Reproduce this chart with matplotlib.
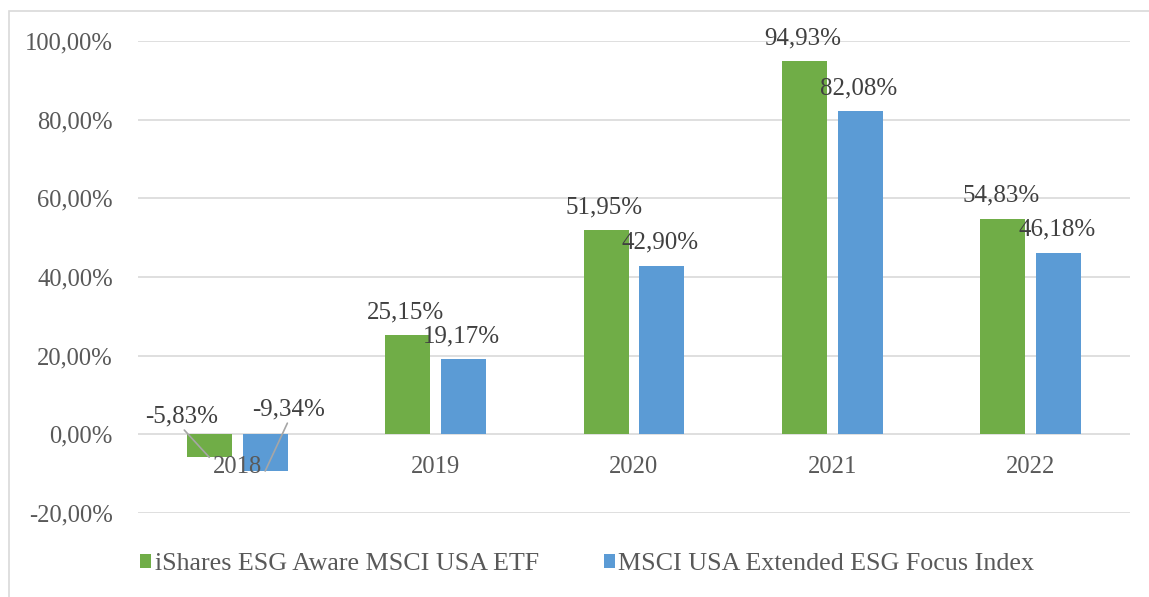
import matplotlib
matplotlib.use('Agg')
import matplotlib.pyplot as plt
from matplotlib.patches import Rectangle
import numpy as np

years = ['2018', '2019', '2020', '2021', '2022']
etf = [-5.83, 25.15, 51.95, 94.93, 54.83]
index = [-9.34, 19.17, 42.90, 82.08, 46.18]
series_names = ['iShares ESG Aware MSCI USA ETF', 'MSCI USA Extended ESG Focus Index']
yticks = [-20, 0, 20, 40, 60, 80, 100]

GREEN = '#70ad47'
BLUE = '#5b9bd5'
FS = 17.7
FS_LAB = 18.0
FS_LEG = 18.7

plt.rcParams['font.family'] = ['Liberation Serif', 'DejaVu Serif']

def pct(v):
    return ('%.2f%%' % v).replace('.', ',')

fig = plt.figure(figsize=(11.49, 5.97), dpi=100)
ax = fig.add_axes([138/1149, 1-513/597, (1130-138)/1149, (513-41)/597])

x = np.arange(len(years))
w = 0.227
off = 0.141
b1 = ax.bar(x - off, etf, w, color=GREEN, zorder=1, label=series_names[0])
b2 = ax.bar(x + off, index, w, color=BLUE, zorder=1, label=series_names[1])

ax.set_xlim(-0.5, len(years) - 0.5)
ax.set_ylim(-20, 100)
ax.set_yticks(yticks)
ax.set_yticklabels([pct(v) for v in yticks], fontsize=FS, color='#595959')
ax.tick_params(axis='y', length=0, pad=18)
ax.set_xticks([])
ax.set_axisbelow(True)
ax.grid(axis='y', color='#d9d9d9', lw=1.2)
for s in ax.spines.values():
    s.set_visible(False)

# category labels sit under the zero line, drawn above the bars
for i, yr in enumerate(years):
    ax.annotate(yr, xy=(i, 0), xytext=(0, -27.5), textcoords='offset points',
                ha='center', va='baseline', fontsize=FS, color='#595959', zorder=5)

# data labels
for vals, xs in ((etf, x - off), (index, x + off)):
    for xi, v in zip(xs, vals):
        if v < 0:
            continue
        ax.annotate(pct(v), xy=(xi, v), xytext=(-1.5, 12.2), textcoords='offset points',
                    ha='center', va='baseline', fontsize=FS_LAB, color='#404040', zorder=6)

# 2018 labels moved off the bars, with leader lines
ax.annotate(pct(etf[0]), xy=(x[0] - off, etf[0]), xytext=(-19.8, 25.2), textcoords='offset points',
            ha='center', va='baseline', fontsize=FS_LAB, color='#404040', zorder=6,
            arrowprops=dict(arrowstyle='-', color='#a6a6a6', lw=1.2, relpos=(0.5, 0),
                            shrinkA=0, shrinkB=0))
ax.annotate(pct(index[0]), xy=(x[0] + off, index[0]), xytext=(16.9, 40.1), textcoords='offset points',
            ha='center', va='baseline', fontsize=FS_LAB, color='#404040', zorder=6,
            arrowprops=dict(arrowstyle='-', color='#a6a6a6', lw=1.2, relpos=(0.5, 0),
                            shrinkA=0, shrinkB=0))

leg = fig.legend(handles=[b1, b2], loc='center', bbox_to_anchor=(0.511, 0.055), ncol=2,
                 frameon=False, fontsize=FS_LEG, handlelength=0.42, handleheight=0.42,
                 handletextpad=0.15, columnspacing=2.5, labelcolor='#595959')

fig.add_artist(Rectangle((9/1149, -0.05), 1.2, 1 - 11/597 + 0.05, transform=fig.transFigure,
                         fill=False, ec='#d9d9d9', lw=1.2))

fig.savefig('out.png', dpi=100)
